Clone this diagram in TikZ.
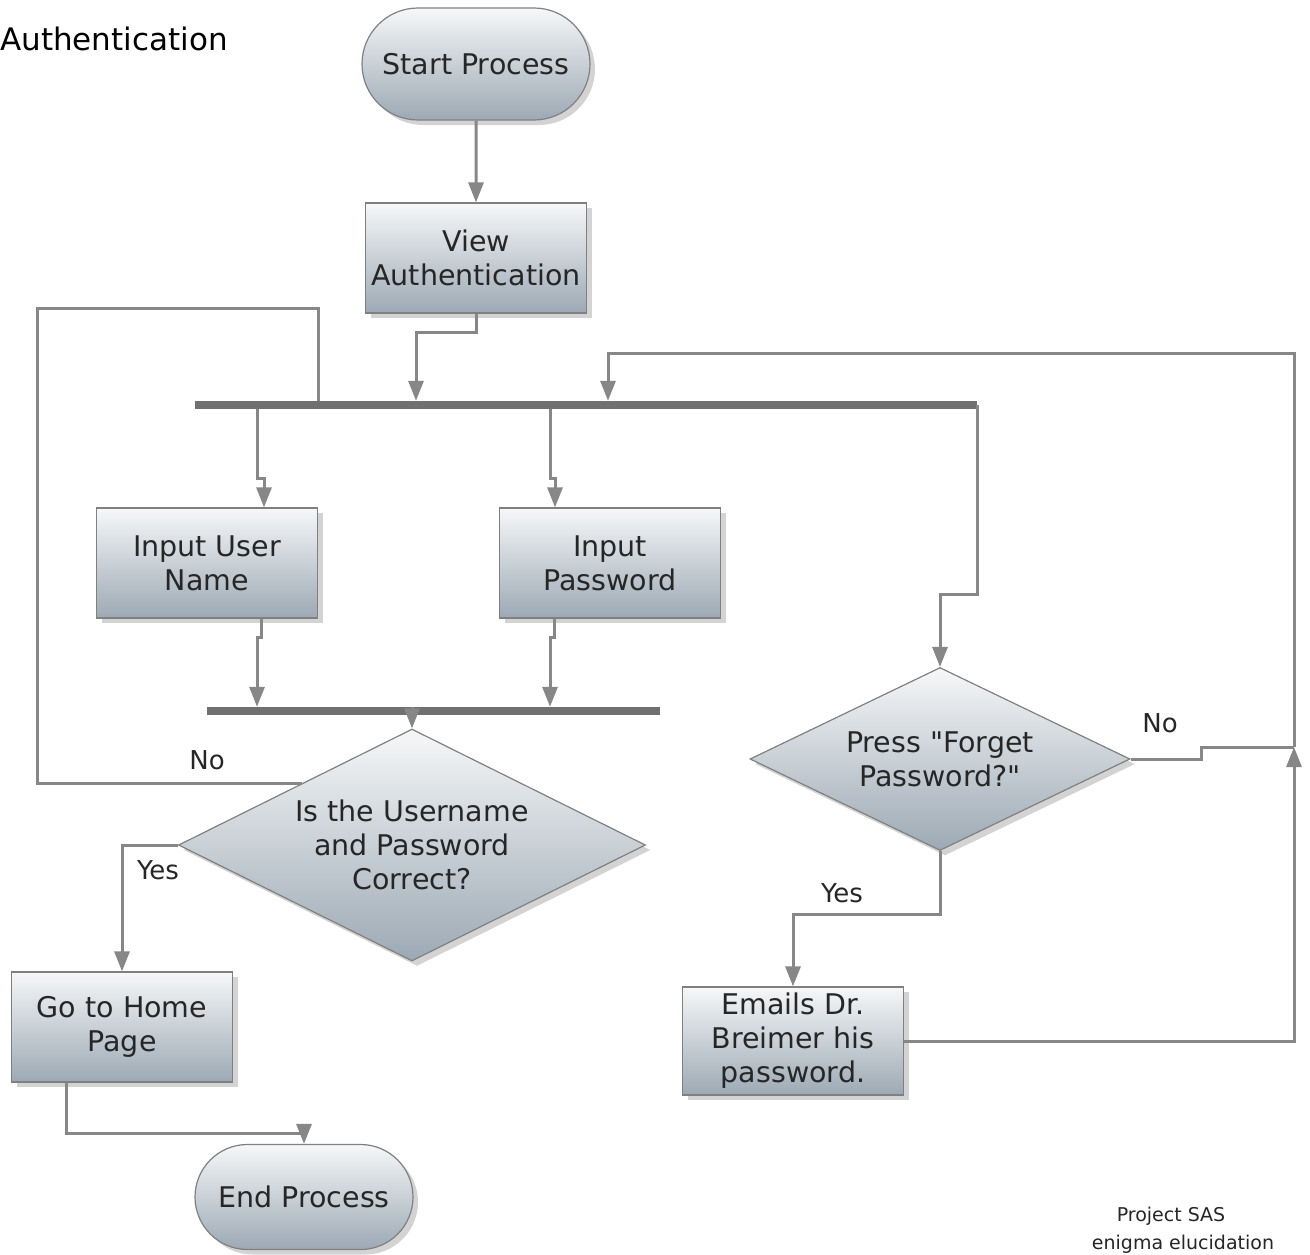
\documentclass[tikz,border=0pt]{standalone}
\usepackage{fontspec}
\setmainfont{DejaVu Sans}[Ligatures=TeXOff]
\usetikzlibrary{arrows.meta, positioning, calc, shapes.geometric, shapes.misc, shadows}

\definecolor{boxtop}{RGB}{246,247,248}
\definecolor{boxbot}{RGB}{156,169,180}
\definecolor{edgegray}{RGB}{128,128,128}
\definecolor{linegray}{RGB}{135,135,135}
\definecolor{bargray}{RGB}{112,112,112}

\tikzset{
  boxbase/.style={draw=edgegray, line width=1.2pt, top color=boxtop, bottom color=boxbot,
    drop shadow={shadow xshift=5pt, shadow yshift=-5pt, opacity=0.35},
    font=\fontsize{28.5}{34}\selectfont, text=black!85, align=center, inner sep=0pt},
  procbox/.style={boxbase, rectangle, minimum width=221pt, minimum height=110pt},
  termbox/.style={boxbase, rounded rectangle},
  decbox/.style={boxbase, diamond},
  syncbar/.style={fill=bargray, minimum height=8pt, inner sep=0pt},
  conn/.style={draw=linegray, line width=3pt},
  connarrow/.style={conn, -{Triangle[length=20pt,width=15pt]}},
  lbl/.style={font=\fontsize{26}{30}\selectfont, text=black!85}
}

\begin{document}
\begin{tikzpicture}[x=1pt, y=-1pt]
\useasboundingbox (0,0) rectangle (1310,1255);
%draw title
\node[anchor=base east, inner sep=0pt, font=\fontsize{31}{36}\selectfont] (title) at (228,51) {Authentication};
%draw nodes
\node[termbox, minimum width=228pt, minimum height=112pt] (start) at (476,64) {Start Process};
\node[procbox] (view) at (476,258) {View\\Authentication};
\node[syncbar, minimum width=782pt] (bar1) at (586,405) {};
\node[procbox] (user) at (207,563) {Input User\\Name};
\node[procbox] (pass) at (610,563) {Input\\Password};
\node[syncbar, minimum width=453pt] (bar2) at (433,711) {};
\node[decbox, shape aspect=2.01, minimum width=467pt, minimum height=232pt] (check) at (412,845) {Is the Username\\and Password\\Correct?};
\node[procbox] (home) at (122,1027) {Go to Home\\Page};
\node[termbox, minimum width=218pt, minimum height=105pt] (finish) at (304,1197) {End Process};
\node[decbox, shape aspect=2.08, minimum width=380pt, minimum height=183pt] (forget) at (940,759) {Press "Forget\\Password?"};
\node[procbox, minimum height=108pt] (emails) at (793,1041) {Emails Dr.\\Breimer his\\password.};
\coordinate (merge) at (1294,747);
%draw connectors
\draw[connarrow] (start) -- (view);
\draw[connarrow] (view.south) |- (416,332) -- (416,0 |- bar1.north);
\draw[connarrow] (257,0 |- bar1.south) |- (264,478) -- (264,0 |- user.north);
\draw[connarrow] (550,0 |- bar1.south) |- (555,478) -- (555,0 |- pass.north);
\draw[connarrow] (261,0 |- user.south) |- (257,637) -- (257,0 |- bar2.north);
\draw[connarrow] (554,0 |- pass.south) |- (550,637) -- (550,0 |- bar2.north);
\draw[connarrow] (check.north |- bar2.north) -- (check.north);
\draw[conn] ($(check.north)!0.47!(check.west)$) -| (37,308) -| (318,0 |- bar1.north);
\draw[connarrow] (check.west) -| (home.north);
\draw[connarrow] (66,0 |- home.south) |- (304,1133) -- (finish.north);
\draw[connarrow] (bar1.east) |- (940,594) -- (forget.north);
\draw[connarrow] (forget.south) |- (793,914) -- (emails.north);
\draw[conn] (forget.east) -- (1201,0 |- forget.east) |- (merge);
\draw[connarrow] (emails.east) -| (merge);
\draw[connarrow] (merge) |- (608,353) -- (608,0 |- bar1.north);
%draw labels
\node[lbl] (nocheck) at (207,760) {No};
\node[lbl] (yescheck) at (158,870) {Yes};
\node[lbl] (noforget) at (1160,723) {No};
\node[lbl] (yesforget) at (842,893) {Yes};
\node[anchor=base, font=\fontsize{19}{23}\selectfont, text=black!85] (project) at (1171,1221) {Project SAS};
\node[anchor=base, font=\fontsize{19}{23}\selectfont, text=black!85] (team) at (1183,1249) {enigma elucidation};
\end{tikzpicture}
\end{document}
